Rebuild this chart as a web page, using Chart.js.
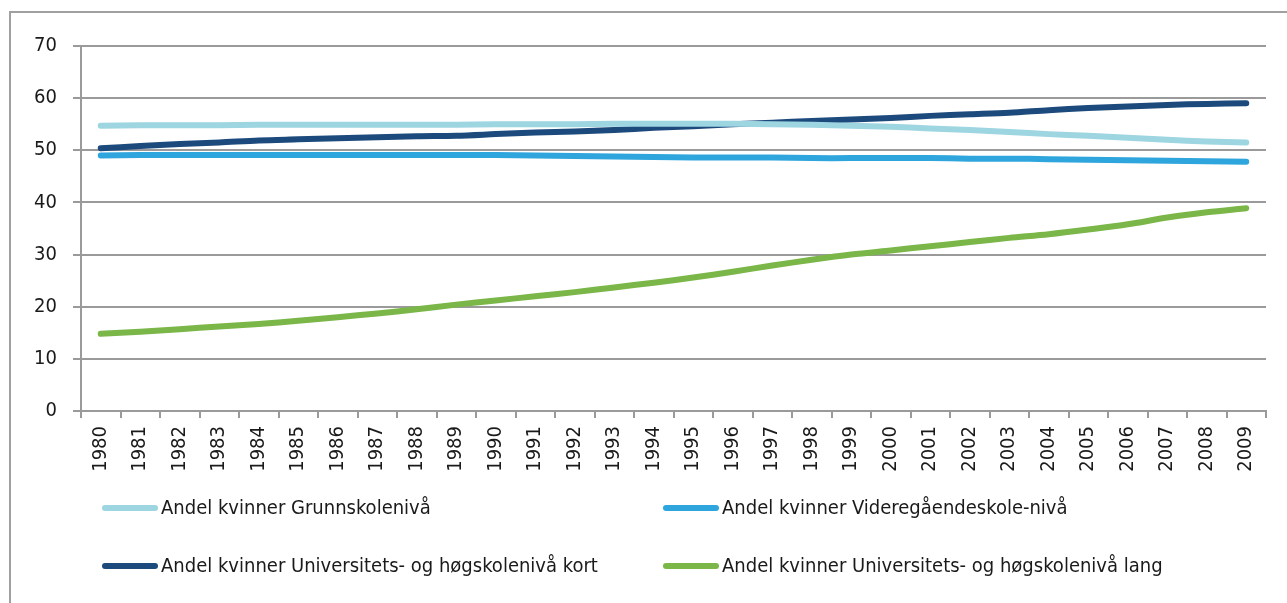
<!DOCTYPE html>
<html>
<head>
<meta charset="utf-8">
<script src="https://cdn.jsdelivr.net/npm/chart.js@4.4.1/dist/chart.umd.min.js"></script>
<style>
  html, body { margin: 0; padding: 0; background: #fff; }
  #wrap { position: relative; width: 1287px; height: 603px; overflow: hidden; }
  #frame { position: absolute; left: 9px; top: 11px; width: 1290px; height: 600px; border: 2px solid #a0a0a0; box-sizing: border-box; }
  canvas { position: absolute; left: 0; top: 0; }
  .leg { position: absolute; font-family: 'Liberation Sans Narrow', 'DejaVu Sans Condensed', Roboto, sans-serif; font-size: 20px; color: #1a1a1a; white-space: nowrap; }
  .leg span.sw { display: inline-block; width: 56px; height: 6px; border-radius: 3px; vertical-align: middle; margin-right: 3px; position: relative; top: -1px; }
</style>
</head>
<body>
<div id="wrap">
  <div id="frame"></div>
  <canvas id="chart" width="1287" height="603"></canvas>
  <div id="legend"></div>
</div>
<script>
// årstall og andeler (prosent)
const years = ['1980','1981','1982','1983','1984','1985','1986','1987','1988','1989',
  '1990','1991','1992','1993','1994','1995','1996','1997','1998','1999',
  '2000','2001','2002','2003','2004','2005','2006','2007','2008','2009'];

const grunnskole = [54.7, 54.8, 54.8, 54.8, 54.9, 54.9, 54.9, 54.9, 54.9, 54.9,
  55.0, 55.0, 55.0, 55.1, 55.1, 55.1, 55.1, 55.0, 54.9, 54.7,
  54.5, 54.2, 53.9, 53.5, 53.1, 52.8, 52.4, 52.0, 51.7, 51.5];

const videregaende = [49.0, 49.1, 49.1, 49.1, 49.1, 49.1, 49.1, 49.1, 49.1, 49.1,
  49.1, 49.0, 48.9, 48.8, 48.7, 48.6, 48.6, 48.6, 48.5, 48.5,
  48.5, 48.5, 48.4, 48.4, 48.3, 48.2, 48.1, 48.0, 47.9, 47.8];

const uniKort = [50.4, 50.8, 51.2, 51.5, 51.9, 52.1, 52.3, 52.5, 52.7, 52.8,
  53.1, 53.4, 53.6, 53.9, 54.3, 54.6, 55.0, 55.3, 55.6, 55.9,
  56.2, 56.6, 56.9, 57.2, 57.7, 58.1, 58.4, 58.7, 58.9, 59.0];

const uniLang = [14.8, 15.2, 15.7, 16.2, 16.7, 17.3, 18.0, 18.7, 19.5, 20.4,
  21.2, 22.0, 22.8, 23.7, 24.6, 25.6, 26.7, 27.9, 29.0, 30.0,
  30.8, 31.6, 32.4, 33.2, 33.9, 34.8, 35.8, 37.1, 38.1, 38.9];

const yTicks = [0, 10, 20, 30, 40, 50, 60, 70];

const series = [
  { label: 'Andel kvinner Grunnskolenivå', data: grunnskole, color: '#9dd5e1' },
  { label: 'Andel kvinner Videregåendeskole-nivå', data: videregaende, color: '#2ea5dc' },
  { label: 'Andel kvinner Universitets- og høgskolenivå kort', data: uniKort, color: '#1d4a7c' },
  { label: 'Andel kvinner Universitets- og høgskolenivå lang', data: uniLang, color: '#7ab648' },
];

const fontFam = "'Liberation Sans Narrow', 'DejaVu Sans Condensed', Roboto, sans-serif";

new Chart(document.getElementById('chart'), {
  type: 'line',
  data: {
    labels: years,
    datasets: series.map(s => ({
      label: s.label,
      data: s.data,
      borderColor: s.color,
      backgroundColor: s.color,
      borderWidth: 6,
      borderCapStyle: 'round',
      pointRadius: 0,
      tension: 0.3,
    })),
  },
  options: {
    responsive: false,
    animation: false,
    layout: { padding: { left: 0, top: 46, right: 21, bottom: 122 } },
    plugins: { legend: { display: false }, tooltip: { enabled: false } },
    scales: {
      x: {
        offset: true,
        grid: { offset: true, drawOnChartArea: false, color: '#9a9a9a', lineWidth: 2, tickLength: 7 },
        border: { color: '#9a9a9a', width: 2 },
        ticks: { color: '#1a1a1a', font: { family: fontFam, size: 20 }, minRotation: 90, maxRotation: 90, autoSkip: false, padding: 8 },
        afterFit: (scale) => { scale.height = 70; },
      },
      y: {
        min: 0,
        max: 70,
        afterBuildTicks: (scale) => { scale.ticks = yTicks.map(v => ({ value: v })); },
        grid: { color: '#9a9a9a', lineWidth: 2, tickLength: 8 },
        border: { color: '#9a9a9a', width: 2 },
        ticks: { color: '#1a1a1a', font: { family: fontFam, size: 20 }, padding: 16 },
        afterFit: (scale) => { scale.width = 81; },
      },
    },
  },
});

// egen forklaring i to kolonner
const legendPos = [[102, 495], [663, 495], [102, 553], [663, 553]];
const legendEl = document.getElementById('legend');
series.forEach((s, i) => {
  const d = document.createElement('div');
  d.className = 'leg';
  d.style.left = legendPos[i][0] + 'px';
  d.style.top = legendPos[i][1] + 'px';
  d.innerHTML = '<span class="sw" style="background:' + s.color + '"></span>' + s.label;
  legendEl.appendChild(d);
});
</script>
</body>
</html>
